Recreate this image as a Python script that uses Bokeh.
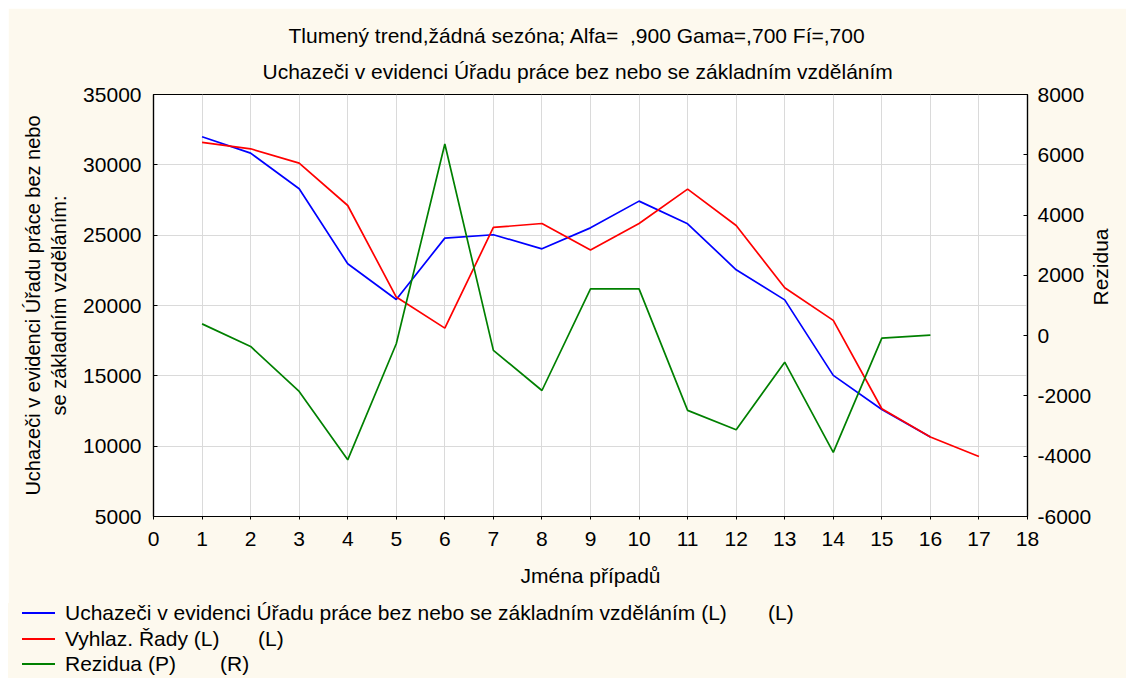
import math
from bokeh.plotting import figure
from bokeh.models import Range1d, LinearAxis, FixedTicker, Title, Spacer, Div
from bokeh.layouts import column, row
from bokeh.embed import file_html
from bokeh.resources import INLINE

# ---------------- data ----------------
case_x = list(range(1, 18))
blue_vals = [32000, 30830, 28300, 22970, 20430, 24790, 25030, 24030, 25520,
             27420, 25810, 22540, 20400, 15030, 12610, 10650]
red_vals = [31590, 31140, 30120, 27110, 20600, 18390, 25550, 25830, 23940,
            25830, 28270, 25690, 21260, 18940, 12660, 10650, 9270]
resid_vals = [390, -360, -1850, -4120, -270, 6360, -490, -1820, 1550, 1550,
              -2480, -3120, -880, -3870, -85, 15]

x_ticks = list(range(0, 19))
left_ticks = [5000, 10000, 15000, 20000, 25000, 30000, 35000]
right_ticks = [-6000, -4000, -2000, 0, 2000, 4000, 6000, 8000]

title1 = "Tlumený trend,žádná sezóna; Alfa= \u00a0,900 Gama=,700 Fí=,700"
title2 = "Uchazeči v evidenci Úřadu práce bez nebo se základním vzděláním"
ylab = "Uchazeči v evidenci Úřadu práce bez nebo\nse základním vzděláním:"
ylab_r = "Rezidua"
xlab = "Jména případů"
leg_names = ["Uchazeči v evidenci Úřadu práce bez nebo se základním vzděláním (L)",
             "Vyhlaz. Řady (L)", "Rezidua (P)"]
leg_side = ["(L)", "(L)", "(R)"]
leg_colors = ["#0000ff", "#ff0000", "#008000"]

FONT = "Liberation Sans"
FS = "21px"
BG = "#fdf9ee"

W = 1118
H_MAIN = 595
H_LEG = 75

p = figure(width=W, height=H_MAIN, output_backend="svg", toolbar_location=None,
           x_range=Range1d(0, 18), y_range=Range1d(5000, 35000),
           min_border_left=145, min_border_right=99, min_border_top=86,
           min_border_bottom=87)
p.extra_y_ranges = {"res": Range1d(-6000, 8000)}
p.background_fill_color = "white"
p.border_fill_color = BG
p.outline_line_color = "black"
p.outline_line_width = 1.2


def style_axis(ax, tick_in, tick_out, standoff):
    ax.axis_line_color = "black"
    ax.axis_line_width = 1.2
    ax.major_tick_in = tick_in
    ax.major_tick_out = tick_out
    ax.major_tick_line_color = "black"
    ax.minor_tick_line_color = None
    ax.major_label_text_font = FONT
    ax.major_label_text_font_size = FS
    ax.major_label_text_color = "black"
    ax.major_label_standoff = standoff
    ax.axis_label_text_font = FONT
    ax.axis_label_text_font_size = FS
    ax.axis_label_text_font_style = "normal"
    ax.axis_label_text_color = "black"


p.xaxis.ticker = FixedTicker(ticks=x_ticks)
p.yaxis.ticker = FixedTicker(ticks=left_ticks)
style_axis(p.xaxis[0], 0, 3, 12)
style_axis(p.yaxis[0], 4, 0, 12)
p.xaxis.axis_label = xlab
p.xaxis.axis_label_standoff = 15
p.yaxis.axis_label = ylab
p.yaxis.axis_label_standoff = 10
p.yaxis.axis_label_text_font_size = "20px"
p.yaxis.axis_label_text_line_height = 1.2

raxis = LinearAxis(y_range_name="res", ticker=FixedTicker(ticks=right_ticks))
style_axis(raxis, 4, 0, 10)
raxis.major_label_overrides = {v: str(v) for v in right_ticks}
raxis.axis_label = ylab_r
raxis.axis_label_standoff = 6
try:
    raxis.axis_label_orientation = math.pi / 2
except Exception:
    pass
p.add_layout(raxis, "right")

p.xgrid.ticker = FixedTicker(ticks=x_ticks)
p.ygrid.ticker = FixedTicker(ticks=left_ticks)
for g in (p.xgrid[0], p.ygrid[0]):
    g.grid_line_color = "#dadada"
    g.grid_line_width = 1

p.line(case_x[:len(blue_vals)], blue_vals, line_color=leg_colors[0], line_width=1.7)
p.line(case_x[:len(red_vals)], red_vals, line_color=leg_colors[1], line_width=1.7)
p.line(case_x[:len(resid_vals)], resid_vals, line_color=leg_colors[2], line_width=1.7,
       y_range_name="res")

# titles: closest to frame first
p.add_layout(Title(text=title2, align="left", offset=109, text_font=FONT,
                   text_font_size=FS, text_font_style="normal",
                   text_color="black", standoff=23), "above")
p.add_layout(Title(text=title1, align="left", offset=135, text_font=FONT,
                   text_font_size=FS, text_font_style="normal",
                   text_color="black", standoff=0), "above")

# ---------------- legend strip ----------------
leg_centers = [10, 35.5, 61]
side_x = [760, 250, 212]
parts = []
for name, side, col, cy, sx in zip(leg_names, leg_side, leg_colors, leg_centers, side_x):
    parts.append(
        f'<div style="position:absolute;left:14px;top:{cy - 1}px;width:33px;'
        f'height:0;border-top:2px solid {col};"></div>')
    parts.append(
        f'<div style="position:absolute;left:57px;top:{cy - 10}px;line-height:20px;'
        f'white-space:nowrap;">{name}</div>')
    parts.append(
        f'<div style="position:absolute;left:{sx}px;top:{cy - 10}px;line-height:20px;'
        f'white-space:nowrap;">{side}</div>')
legend_html = (
    f'<div style="position:relative;width:{W}px;height:{H_LEG}px;background:{BG};'
    f'font-family:\'{FONT}\';font-size:{FS};color:black;">'
    + "".join(parts) + "</div>")
legend_div = Div(text=legend_html, width=W, height=H_LEG,
                 styles={"background-color": BG, "margin": "0", "padding": "0"})

layout = column(Spacer(height=8),
                row(Spacer(width=8), column(p, legend_div, spacing=0), spacing=0),
                spacing=0)

open("out.html", "w").write(file_html(layout, INLINE))
